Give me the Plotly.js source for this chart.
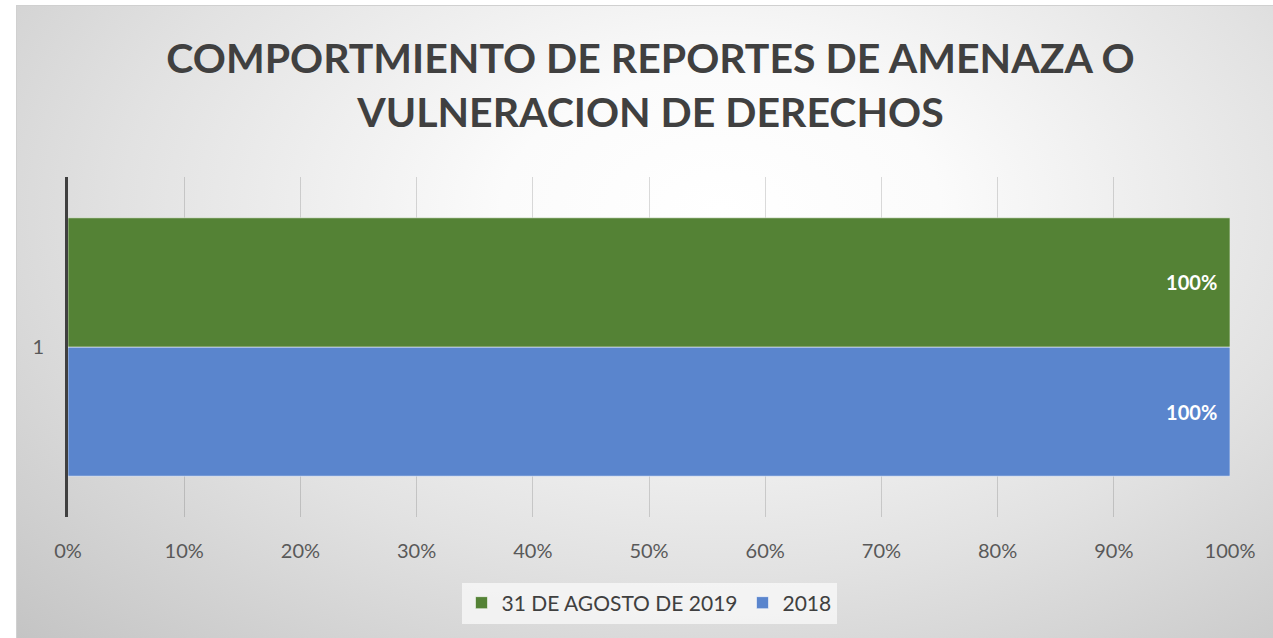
<!DOCTYPE html>
<html>
<head>
<meta charset="utf-8">
<script src="https://cdn.plot.ly/plotly-3.0.1.min.js"></script>
<style>
  html, body { margin:0; padding:0; background:#ffffff; }
  #wrap { position:relative; width:1273px; height:638px; overflow:hidden; }
  #bg { position:absolute; left:16px; top:5px; right:-2px; bottom:-2px;
        border:1px solid #d0d0d0;
        background: radial-gradient(ellipse farthest-corner at 56% 32%, #ffffff 0%, #fbfbfb 22%, #e2e2e2 60%, #c4c4c4 100%); }
  #chart { position:absolute; left:0; top:0; width:1273px; height:638px; }
</style>
</head>
<body>
<div id="wrap">
  <div id="bg"></div>
  <div id="chart"></div>
</div>
<script>
const categories = ["1"];
const seriesNames = ["2018", "31 DE AGOSTO DE 2019"];
const values2018 = [1.0];
const valuesAgo2019 = [1.0];
const tickVals = [0, 0.1, 0.2, 0.3, 0.4, 0.5, 0.6, 0.7, 0.8, 0.9, 1.0];
const tickText = ["0%", "10%", "20%", "30%", "40%", "50%", "60%", "70%", "80%", "90%", "100%"];
const chartTitle = "COMPORTMIENTO DE REPORTES DE AMENAZA O<br>VULNERACION DE DERECHOS";

const fontFam = "Lato, 'Open Sans', sans-serif";

const traces = [
  {
    type: "bar", orientation: "h", name: seriesNames[0],
    y: categories, x: values2018,
    marker: { color: "#5a85cd", line: { color: "rgba(255,255,255,0.55)", width: 1 } },
    texttemplate: "%{x:.0%}\u00a0\u00a0", textposition: "inside", insidetextanchor: "end",
    textfont: { family: fontFam, size: 20, color: "#ffffff", weight: "bold" },
    hoverinfo: "skip"
  },
  {
    type: "bar", orientation: "h", name: seriesNames[1],
    y: categories, x: valuesAgo2019,
    marker: { color: "#548235", line: { color: "rgba(255,255,255,0.55)", width: 1 } },
    texttemplate: "%{x:.0%}\u00a0\u00a0", textposition: "inside", insidetextanchor: "end",
    textfont: { family: fontFam, size: 20, color: "#ffffff", weight: "bold" },
    hoverinfo: "skip"
  }
];

const layout = {
  width: 1273, height: 638,
  paper_bgcolor: "rgba(0,0,0,0)", plot_bgcolor: "rgba(0,0,0,0)",
  margin: { l: 68, r: 43, t: 177, b: 121, pad: 0 },
  barmode: "group", bargap: 0.24, bargroupgap: 0,
  title: {
    text: chartTitle, x: 0.511, xanchor: "center", y: 0.885, yanchor: "top",
    font: { family: fontFam, size: 41, color: "#404040", weight: "bold" }
  },
  xaxis: {
    range: [0, 1], tickvals: tickVals, ticktext: tickText,
    showgrid: true, gridcolor: "rgba(0,0,0,0.14)", gridwidth: 1,
    zeroline: false, showline: false, ticks: "",
    tickfont: { family: fontFam, size: 20, color: "#595959" },
    ticklabelstandoff: 20, fixedrange: true
  },
  yaxis: {
    showline: true, linecolor: "#404040", linewidth: 3,
    showgrid: false, zeroline: false, ticks: "",
    tickfont: { family: fontFam, size: 20, color: "#595959" },
    ticklabelstandoff: 17, fixedrange: true
  },
  showlegend: true,
  legend: {
    orientation: "h", x: 0.5, xanchor: "center", y: -0.253, yanchor: "middle",
    traceorder: "reversed",
    bgcolor: "rgba(250,250,250,0.75)", borderwidth: 0,
    font: { family: fontFam, size: 21, color: "#404040" },
    itemwidth: 30
  }
};

Plotly.newPlot("chart", traces, layout, { displayModeBar: false, staticPlot: true });
</script>
</body>
</html>
